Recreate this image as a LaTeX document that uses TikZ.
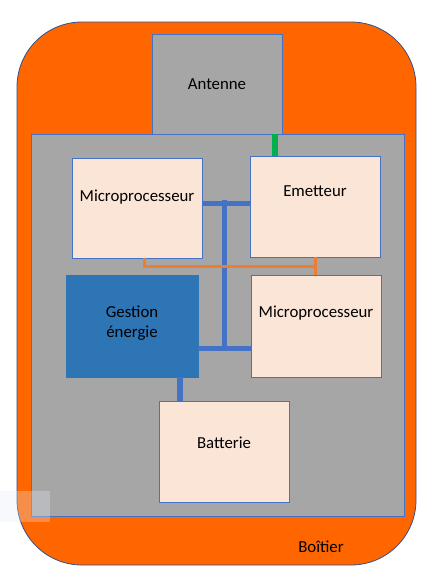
\documentclass[tikz,border=0pt]{standalone}
\usepackage{fontspec}
\setmainfont{Carlito}
\usepackage{tikz}
\tikzset{every label/.style={font=\fontsize{16.8}{20}\selectfont,align=center,inner sep=0pt}}
\tikzset{carte/.style={rectangle,draw=bleu,fill=peche,line width=0.8pt,minimum width=130pt,minimum height=100pt,inner sep=0pt}}
\tikzset{bus/.style={draw=bleu,line width=5pt}}
\newcommand{\carte}[5][]{\node[carte,#1,label={[yshift=#5]center:#4}] at (#2) (#3) {}}

\begin{document}
\begin{tikzpicture}[x=1pt,y=-1pt]
        \definecolor{orangeboitier}{RGB}{255,102,0}
        \definecolor{gris}{RGB}{166,166,166}
        \definecolor{peche}{RGB}{251,229,214}
        \definecolor{bleu}{RGB}{68,114,196}
        \definecolor{bleufonce}{RGB}{46,117,182}
        \definecolor{vert}{RGB}{0,176,80}
        \definecolor{orangefil}{RGB}{237,125,49}
        \useasboundingbox (0,0) rectangle (438,584);
        \draw[fill=orangeboitier,draw=bleu!70!black,line width=0.8pt,rounded corners=65pt] (17,22) rectangle (416,565);
        \node[draw=bleu,fill=gris,line width=0.8pt,minimum width=373pt,minimum height=382pt,inner sep=0pt] at (217.5,325) (support) {};
        \carte[fill=gris]{217,84}{antenne}{Antenne}{0};
        \carte{137,208}{micro1}{Microprocesseur}{11};
        \carte[minimum height=101pt]{315,206.5}{emetteur}{Emetteur}{15};
        \carte[minimum height=102pt]{316,326}{micro2}{Microprocesseur}{13};
        \carte[fill=bleufonce,draw=bleufonce,minimum width=132pt,minimum height=102pt]{132,326}{gestion}{Gestion\\énergie}{3};
        \carte[minimum height=101pt]{224,451.5}{batterie}{Batterie}{9};
        \node[font=\fontsize{16.8}{20}\selectfont] at (321,547) (boitier) {Boîtier};
        \coordinate (bushaut) at (224,203);
        \coordinate (busbas) at (224,348);
        \coordinate (liaison) at (315,266);
        \draw[bus]
        (bushaut -| micro1.east) -- (bushaut -| emetteur.west)
        ([yshift=3pt]bushaut) -- (busbas)
        (busbas -| gestion.east) -- (busbas -| micro2.west);
        \draw[bus,line width=6pt]
        ([xshift=48pt]gestion.south) -- ([xshift=48pt]gestion.south |- batterie.north);
        \draw[vert,line width=6.5pt]
        ([xshift=-40pt]emetteur.north) -- ([xshift=-40pt]emetteur.north |- antenne.south);
        \draw[orangefil,line width=3pt]
        ([xshift=7pt]micro1.south) |- (liaison)
        (emetteur.south) -- (emetteur.south |- micro2.north);
        \fill[bleu!15,opacity=0.3] (0,491) rectangle (50,522);

    \end{tikzpicture}
\end{document}
